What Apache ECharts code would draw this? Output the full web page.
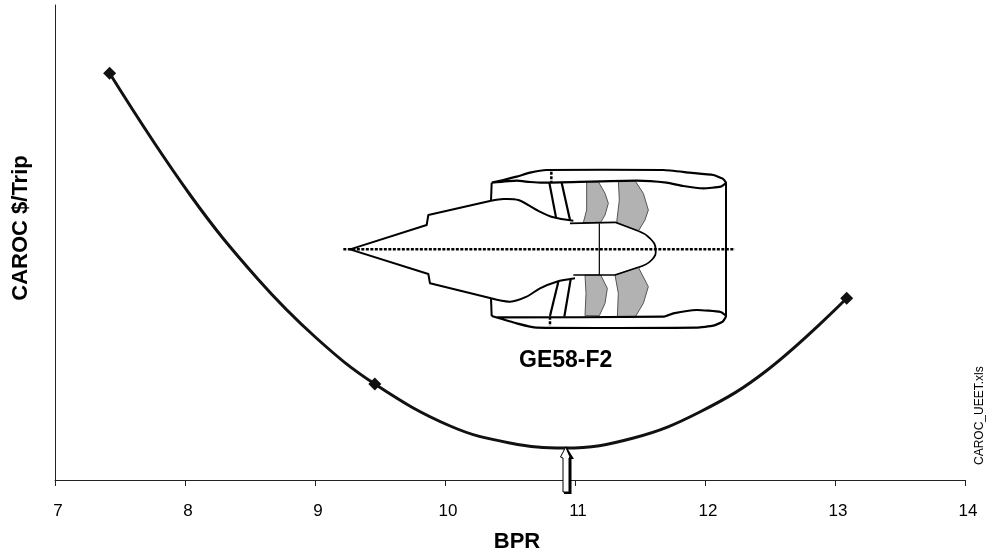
<!DOCTYPE html>
<html><head><meta charset="utf-8">
<style>html,body{margin:0;padding:0;background:#fff}#c{width:988px;height:552px}</style>
<script src="https://cdn.jsdelivr.net/npm/echarts@6/dist/echarts.min.js"></script>
</head><body><div id="c"></div>
<script>
// Values. The y axis carries no labels, so its units are relative.
const curveBPR  = [7.42,8.04,8.56,9.01,9.46,10.04,10.50,10.92,11.45,11.96,12.48,13.09];
const curveCost = [406.7,285,201,142,96,54,37,32,42,68,110,181.7];
const pointBPR  = [7.42,9.46,13.09];
const pointCost = [406.7,96,181.7];
const xTicks = {min:7,max:14,interval:1};
const titles = {x:'BPR',y:'CAROC $/Trip',engine:'GE58-F2',file:'CAROC_UEET.xls'};

// Engine illustration outline, in the crop frame of the sketch (offset and scale applied in toPx).
const nacelleTop = [[485,68],[520,60],[560,50],[600,38],[650,30],[1000,30],[1080,38],[1150,45],[1178,56],[1188,68],[1172,80],[1120,85],[1060,78],[1010,68],[920,62],[640,68],[600,66],[560,62],[485,68]];
const nacelleBottom = [[485,468],[560,490],[620,503],[1100,503],[1150,497],[1178,485],[1188,468],[1172,456],[1100,450],[1030,460],[1000,470],[500,472],[485,468]];
const coneTop = [[60,268],[290,195],[295,165],[483,122]];
const coreTop = [[483,122],[520,117],[565,120],[620,150],[670,172],[730,182]];
const coneBottom = [[60,268],[295,342],[300,370],[483,415]];
const coreBottom = [[483,415],[540,425],[590,410],[630,385],[680,365],[735,355]];
const inletTop = [[485,68],[483,122]];
const inletBottom = [[483,415],[485,468]];
const plugTop = [[720,190],[855,187],[925,213]];
const plugNose = [[925,213],[960,235],[977,268],[965,300],[925,322]];
const plugBottom = [[925,322],[855,345],[730,345]];
const bladeLines = [[[658,68],[678,172]],[[695,68],[720,180]],[[685,365],[660,468]],[[722,358],[703,470]]];
const frontFrame = [[808,190],[808,345]];
const rearFrame = [[1188,68],[1188,468]];
const grayVanes = [
  [[770,65],[805,65],[825,100],[835,130],[825,165],[812,187],[760,188],[770,150]],
  [[865,62],[915,62],[940,100],[955,150],[945,180],[925,213],[860,187],[868,120]],
  [[765,345],[812,345],[832,385],[825,430],[808,467],[765,467],[768,400]],
  [[855,345],[925,322],[955,380],[940,430],[915,472],[862,472],[865,400]]
];
const centerLine = [[40,268],[1215,268]];
const dotTop = [[664,35],[664,68]];
const dotBottom = [[660,470],[660,498]];

const toPx = a => a.map(p => [330 + p[0]/3, 160 + p[1]/3]);
const line = (pts, w, smooth) => ({type:'polyline', z:5, shape:{points:toPx(pts), smooth:smooth||0}, style:{stroke:'#000',fill:null,lineWidth:w,lineJoin:'round'}});

const g = [];
grayVanes.forEach(v => g.push({type:'polygon', z:4, shape:{points:toPx(v)}, style:{fill:'#b2b2b2',stroke:'#555',lineWidth:1}}));
g.push(line(nacelleTop,2.2,0.15),line(nacelleBottom,2.2,0.15),line(coneTop,2),line(coneBottom,2),line(coreTop,2,0.3),line(coreBottom,2,0.3),line(inletTop,2),line(inletBottom,2));
g.push(line(plugTop,1.6),line(plugNose,1.8,0.5),line(plugBottom,1.6),line(frontFrame,1.2),line(rearFrame,2));
bladeLines.forEach(b => g.push(line(b,2.2)));
[centerLine,dotTop,dotBottom].forEach(d => g.push({type:'polyline', z:6, shape:{points:toPx(d)}, style:{stroke:'#000',fill:null,lineWidth:2.5,lineDash:[3,1.5]}}));
// arrow marking the optimum BPR
g.push({type:'polygon', z:7, shape:{points:[[566,446],[574,459],[571.5,459],[571.5,494],[564,494],[564,458],[566,446]]}, style:{fill:'#000'}});
g.push({type:'polygon', z:8, shape:{points:[[565.7,447],[570,457],[569,458],[569,492],[563,492],[563,458],[560.5,457]]}, style:{fill:'#fff',stroke:'#000',lineWidth:1}});
g.push({type:'text', z:9, x:519, y:361, style:{text:titles.engine,fill:'#000',font:'bold 23px "Liberation Sans"',verticalAlign:'middle'}});
g.push({type:'text', z:9, x:980, y:465, rotation:Math.PI/2, style:{text:titles.file,fill:'#000',font:'12px "Liberation Sans"',align:'left',verticalAlign:'middle'}});

const chart = echarts.init(document.getElementById('c'),null,{renderer:'canvas'});
chart.setOption({
  animation:false,
  backgroundColor:'#fff',
  grid:{left:55,right:23,top:5,bottom:72,containLabel:false,outerBoundsMode:'none'},
  xAxis:{type:'value',min:xTicks.min,max:xTicks.max,interval:xTicks.interval,
    name:titles.x,nameLocation:'middle',nameGap:51,
    nameTextStyle:{color:'#000',fontFamily:'Liberation Sans',fontWeight:'bold',fontSize:22,padding:[0,0,0,14]},
    axisLine:{lineStyle:{color:'#222',width:1}},axisTick:{show:true,length:6,lineStyle:{color:'#222'}},
    axisLabel:{color:'#000',fontFamily:'Liberation Sans',fontSize:17,margin:31,padding:[0,0,0,6],verticalAlign:'middle',hideOverlap:false},splitLine:{show:false}},
  yAxis:{type:'value',min:0,max:475,
    name:titles.y,nameLocation:'middle',nameGap:23,
    nameTextStyle:{color:'#000',fontFamily:'Liberation Sans',fontWeight:'bold',fontSize:22,padding:[0,0,0,29]},
    axisLine:{show:true,lineStyle:{color:'#222',width:1}},axisTick:{show:false},axisLabel:{show:false},splitLine:{show:false}},
  series:[
    {type:'line',name:'curve',smooth:0.4,showSymbol:false,symbol:'none',lineStyle:{color:'#111',width:3},
     data:curveBPR.map((x,i)=>[x,curveCost[i]])},
    {type:'scatter',name:'points',symbol:'diamond',symbolSize:13,itemStyle:{color:'#111',opacity:1},
     data:pointBPR.map((x,i)=>[x,pointCost[i]])}
  ],
  graphic:g
});
</script></body></html>
